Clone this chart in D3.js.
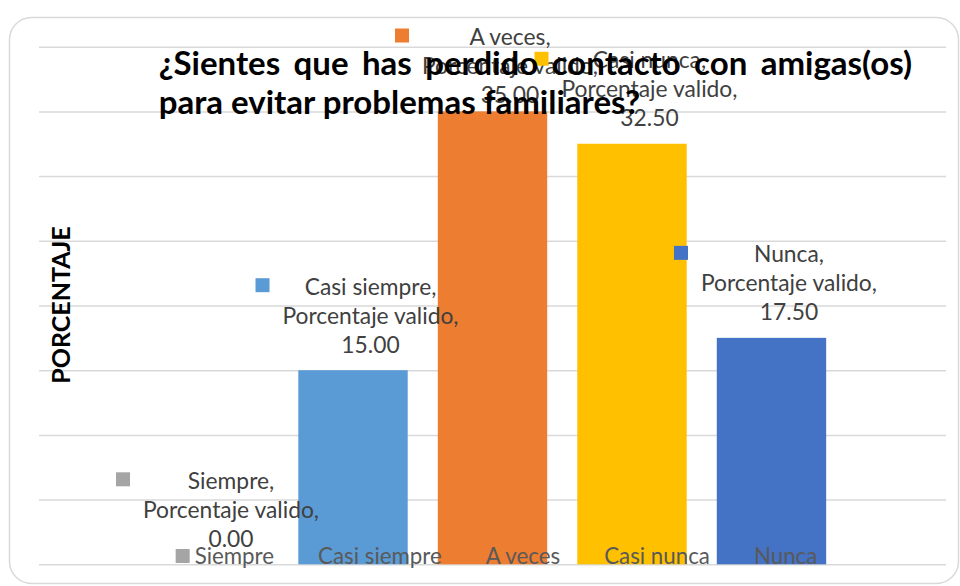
<!DOCTYPE html>
<html>
<head>
<meta charset="utf-8">
<script src="https://cdn.jsdelivr.net/npm/d3@7"></script>
<style>
  html, body { margin: 0; padding: 0; background: #fff; }
  svg { display: block; font-family: Lato, "Open Sans", sans-serif; }
</style>
</head>
<body>
<svg id="chart" width="960" height="586"></svg>
<script>
var categories = ['Siempre', 'Casi siempre', 'A veces', 'Casi nunca', 'Nunca'];
var values = [0.00, 15.00, 35.00, 32.50, 17.50];
var colors = ['#A5A5A5', '#5B9BD5', '#ED7D31', '#FFC000', '#4472C4'];
var seriesName = 'Porcentaje valido';
var yTicks = [0, 5, 10, 15, 20, 25, 30, 35, 40];
var titleLines = ['¿Sientes que has perdido contacto con amigas(os)', 'para evitar problemas familiares?'];
var yTitle = 'PORCENTAJE';

var svg = d3.select('#chart');
var plot = {left: 39, right: 946, top: 46.7, bottom: 564.3};

// chart frame
svg.append('rect')
    .attr('x', 9.5).attr('y', 17.5)
    .attr('width', 949).attr('height', 566)
    .attr('rx', 22).attr('ry', 22)
    .style('fill', '#fff')
    .style('stroke', '#D9D9D9')
    .style('stroke-width', 1.5);

var x = d3.scaleBand()
    .domain(categories)
    .range([plot.left, plot.right])
    .paddingInner(0.2158)
    .paddingOuter(0.859);

var y = d3.scaleLinear()
    .domain([0, 40])
    .range([plot.bottom, plot.top]);

// gridlines only, no tick labels
var grid = svg.append('g')
    .attr('transform', 'translate(' + plot.left + ',0)')
    .call(d3.axisLeft(y).tickValues(yTicks).tickSize(-(plot.right - plot.left)).tickFormat(''));
grid.select('.domain').remove();
grid.selectAll('.tick line').style('stroke', '#D9D9D9').style('stroke-width', 1.5);

svg.append('g').selectAll('rect')
    .data(values)
    .enter().append('rect')
    .attr('x', function(d, i){ return x(categories[i]); })
    .attr('y', function(d){ return y(d); })
    .attr('width', x.bandwidth())
    .attr('height', function(d){ return y(0) - y(d); })
    .style('fill', function(d, i){ return colors[i]; });

// data labels: legend key + "category, series, value"
var lineGap = 29;
var labels = svg.append('g').style('font-size', '22.8px').style('fill', '#404040');
values.forEach(function(v, i){
    var cx = x(categories[i]) + x.bandwidth() / 2;
    var lines = [categories[i] + ',', seriesName + ',', v.toFixed(2)];
    var first = Math.max(y(v) - 25.5 - 2 * lineGap, 37);
    var g = labels.append('g');
    var texts = g.selectAll('text').data(lines).enter().append('text')
        .attr('y', function(d, k){ return first + k * lineGap; })
        .attr('dy', '0.35em')
        .attr('text-anchor', 'middle')
        .text(function(d){ return d; });
    var maxW = 0;
    texts.each(function(){ maxW = Math.max(maxW, this.getComputedTextLength()); });
    var blockLeft = cx + 4 - (14 + 13 + maxW) / 2;
    texts.attr('x', blockLeft + 27 + maxW / 2);
    g.append('rect')
        .attr('x', blockLeft).attr('y', first - 8.5)
        .attr('width', 14).attr('height', 14)
        .style('fill', colors[i]);
});

// legend along the bottom
var legend = svg.append('g').style('font-size', '22.3px').style('fill', '#595959');
var items = legend.selectAll('g').data(categories).enter().append('g');
items.append('rect')
    .attr('width', 14).attr('height', 14)
    .attr('y', 549)
    .style('fill', function(d, i){ return colors[i]; });
items.append('text')
    .attr('x', 19).attr('y', 556)
    .attr('dy', '0.35em')
    .text(function(d){ return d; });
var itemGap = 25;
var pos = 0, offsets = [];
items.each(function(){
    offsets.push(pos);
    pos += 19 + d3.select(this).select('text').node().getComputedTextLength() + itemGap;
});
var legendW = pos - itemGap;
var legendLeft = (plot.left + plot.right) / 2 + 4 - legendW / 2;
items.attr('transform', function(d, i){ return 'translate(' + (legendLeft + offsets[i]) + ',0)'; });

// title, first line justified
var title = svg.append('g').style('font-size', '33px').style('font-weight', 'bold').style('fill', '#000');
var titleLeft = 158.7, titleRight = 912, titleBase = [75, 114];
var words = titleLines[0].split(' ');
var wordNodes = words.map(function(w){
    return title.append('text').attr('y', titleBase[0]).text(w);
});
var wordsW = d3.sum(wordNodes, function(n){ return n.node().getComputedTextLength(); });
var space = (titleRight - titleLeft - wordsW) / (words.length - 1);
var cursor = titleLeft;
wordNodes.forEach(function(n){
    n.attr('x', cursor);
    cursor += n.node().getComputedTextLength() + space;
});
title.append('text')
    .attr('x', titleLeft).attr('y', titleBase[1])
    .text(titleLines[1]);

svg.append('text')
    .attr('transform', 'translate(61,305) rotate(-90)')
    .attr('text-anchor', 'middle')
    .attr('dy', '0.35em')
    .style('font-size', '25px')
    .style('font-weight', 'bold')
    .style('fill', '#000')
    .text(yTitle);
</script>
</body>
</html>
